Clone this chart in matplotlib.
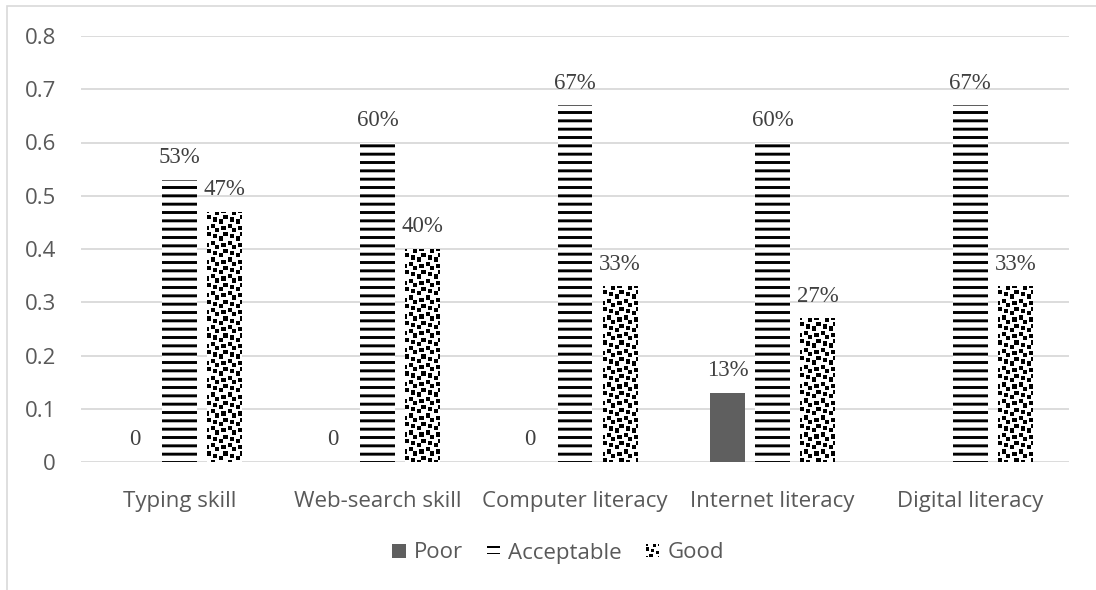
import numpy as np
import matplotlib
matplotlib.use("Agg")
import matplotlib.pyplot as plt
from matplotlib.patches import Rectangle, Patch
from matplotlib.legend_handler import HandlerBase

# ==========================
# DATA
# ==========================

categories = ["Typing skill", "Web-search skill", "Computer literacy",
              "Internet literacy", "Digital literacy"]
series_names = ["Poor", "Acceptable", "Good"]
poor = [0, 0, 0, 0.13, None]
acceptable = [0.53, 0.60, 0.67, 0.60, 0.67]
good = [0.47, 0.40, 0.33, 0.27, 0.33]
y_ticks = [0, 0.1, 0.2, 0.3, 0.4, 0.5, 0.6, 0.7, 0.8]

# ==========================
# STYLE
# ==========================

plt.rcParams["hatch.linewidth"] = 2.1
plt.rcParams["font.family"] = ["Open Sans", "DejaVu Sans"]

TICK_COLOR = "#595959"
LABEL_COLOR = "#404040"
GRID_COLOR = "#d9d9d9"
POOR_COLOR = "#5f5f5f"

# confetti tile used for the "Good" series (1 = black)
CONFETTI = np.array([[int(b) for b in f"{v:08b}"] for v in
                     [0x8d, 0x0c, 0xc0, 0xd8, 0x1b, 0x03, 0x30, 0xb1]])

fig = plt.figure(figsize=(10.96, 5.90), dpi=100)
ax = fig.add_axes([81 / 1096, 1 - 462 / 590, 988 / 1096, 426 / 590])

# chart area border (only top and left visible)
fig.add_artist(Rectangle((7 / 1096, -0.1), 1.2, 1 - 6 / 590 + 0.1,
                         transform=fig.transFigure, facecolor="none",
                         edgecolor=GRID_COLOR, linewidth=1.2))

x = np.arange(len(categories))
width = 0.177
step = 0.228

poor_vals = [v if v is not None else 0 for v in poor]
bars_poor = ax.bar(x - step, poor_vals, width, color=POOR_COLOR,
                   linewidth=0, zorder=3)
bars_acc = ax.bar(x, acceptable, width, facecolor="white", edgecolor="black",
                  hatch="--", linewidth=0, zorder=3)
bars_good = ax.bar(x + step, good, width, facecolor="white",
                   edgecolor="none", linewidth=0, zorder=3)

# fill the "Good" bars with the confetti texture
px_per_cell = 2.1
for b in bars_good:
    x0, w, h = b.get_x(), b.get_width(), b.get_height()
    w_px = w / 5 * 988
    h_px = h / 0.8 * 426
    cols = max(1, int(round(w_px / px_per_cell)))
    rows = max(1, int(round(h_px / px_per_cell)))
    tex = np.tile(CONFETTI, (rows // 8 + 1, cols // 8 + 1))[:rows, :cols]
    im = ax.imshow(1 - tex, cmap="gray", vmin=0, vmax=1,
                   extent=(x0, x0 + w, 0, h), aspect="auto",
                   interpolation="nearest", origin="upper", zorder=4)
    im.set_clip_path(b)

# ==========================
# DATA LABELS
# ==========================

def label_bars(bars, values):
    for b, v in zip(bars, values):
        if v is None:
            continue
        text = "0" if v == 0 else f"{v * 100:.0f}%"
        ax.annotate(text, (b.get_x() + b.get_width() / 2, b.get_height()),
                    xytext=(0, 16), textcoords="offset points",
                    ha="center", va="center", fontsize=16.5,
                    family=["Liberation Serif"], color=LABEL_COLOR,
                    zorder=5)

label_bars(bars_poor, poor)
label_bars(bars_acc, acceptable)
label_bars(bars_good, good)

# ==========================
# AXES
# ==========================

ax.set_xlim(-0.5, len(categories) - 0.5)
ax.set_ylim(0, 0.8)
ax.set_yticks(y_ticks)
ax.set_yticklabels([f"{t:g}" for t in y_ticks])
ax.set_xticks(x)
ax.set_xticklabels(categories)
ax.tick_params(axis="both", length=0, colors=TICK_COLOR, labelsize=16)
ax.tick_params(axis="x", pad=21)
ax.tick_params(axis="y", pad=18)
for s in ax.spines.values():
    s.set_visible(False)
ax.yaxis.grid(True, color=GRID_COLOR, linewidth=1.3, zorder=0)
ax.set_axisbelow(True)

# ==========================
# LEGEND
# ==========================

class ConfettiHandler(HandlerBase):
    def create_artists(self, legend, orig_handle, xdescent, ydescent,
                       width, height, fontsize, trans):
        s = min(width, height)
        x0 = -xdescent + (width - s) / 2
        y0 = -ydescent + (height - s) / 2
        cell = s / 8
        arts = []
        for r in range(8):
            for c in range(8):
                if CONFETTI[r, c]:
                    arts.append(Rectangle((x0 + c * cell, y0 + (7 - r) * cell),
                                          cell, cell, facecolor="black",
                                          edgecolor="none", transform=trans))
        return arts


class EqualsHandler(HandlerBase):
    # two thin horizontal strokes, like the legend key of a line hatch
    def create_artists(self, legend, orig_handle, xdescent, ydescent,
                       width, height, fontsize, trans):
        x0 = -xdescent
        y0 = -ydescent
        arts = []
        for frac in (0.3, 0.75):
            arts.append(Rectangle((x0, y0 + frac * height - 0.6), width, 1.3,
                                  facecolor="black", edgecolor="none",
                                  transform=trans))
        return arts


h_poor = Patch(facecolor=POOR_COLOR, linewidth=0)
h_acc = Patch(facecolor="white", edgecolor="black", hatch="--", linewidth=0)
h_good = Patch(facecolor="white")

fig.legend([h_poor, h_acc, h_good], series_names, loc="center",
           bbox_to_anchor=(558 / 1096, 1 - 553 / 590), ncol=3,
           frameon=False, fontsize=16, labelcolor=TICK_COLOR,
           handlelength=0.6, handleheight=0.6, handletextpad=0.35,
           columnspacing=1.1,
           handler_map={h_good: ConfettiHandler(), h_acc: EqualsHandler()})

fig.savefig("out.png", dpi=100)
